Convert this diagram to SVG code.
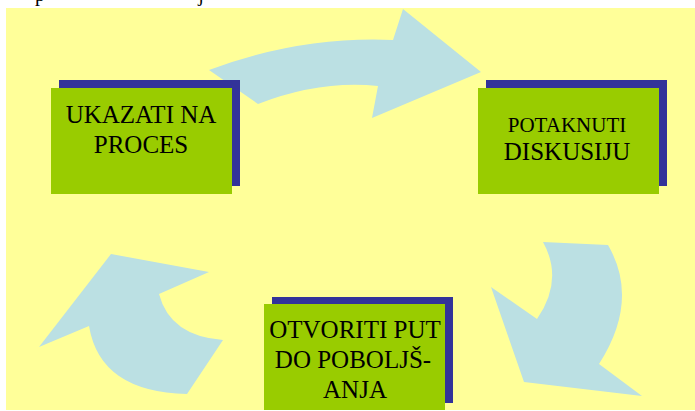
<svg xmlns="http://www.w3.org/2000/svg" width="695" height="411" viewBox="0 0 695 411">
<style>
.arrow{fill:#BBE0E3}
.shadow{fill:#333399}
.box{fill:#99CC00}
.t{font-family:"Liberation Serif","Times New Roman",serif;fill:#000;text-anchor:middle}
</style>
<rect x="0" y="0" width="695" height="411" fill="#FFFFFF"/>
<rect x="6" y="8" width="689" height="402" fill="#FFFF99"/>
<text x="40" y="1" font-family="Liberation Serif, serif" font-size="20" text-anchor="middle">p</text>
<text x="201" y="1" font-family="Liberation Serif, serif" font-size="20" text-anchor="middle">j</text>
<g id="connectors">
<path class="arrow" d="M209,70 Q300,36 393,40 L403,9 L481,72 L372,118 L378,86 Q320,80 258,104 Z"/>
<path class="arrow" d="M543,242 L608,245 Q640,300 599,364 L642,396 L524,382 L491,287 L537,319 Q564,280 543,242 Z"/>
<path class="arrow" d="M111,254 L209,272 L159,294 Q170,336 223,340 L187,394 Q100,392 89,326 L39,347 Z"/>
</g>
<g id="node1">
<rect class="shadow" x="59" y="80" width="181" height="106"/>
<rect class="box" x="51" y="88" width="181" height="106"/>
<text class="t" x="141" y="123" font-size="25">UKAZATI NA</text>
<text class="t" x="141" y="153" font-size="25">PROCES</text>
</g>
<g id="node2">
<rect class="shadow" x="486" y="80" width="181" height="106"/>
<rect class="box" x="478" y="88" width="181" height="106"/>
<text class="t" x="567" y="132" font-size="21">POTAKNUTI</text>
<text class="t" x="567" y="160" font-size="25">DISKUSIJU</text>
</g>
<g id="node3">
<rect class="shadow" x="272" y="297" width="181" height="106"/>
<rect class="box" x="264" y="304" width="181" height="106"/>
<text class="t" x="355" y="338" font-size="25">OTVORITI PUT</text>
<text class="t" x="353" y="368" font-size="25">DO POBOLJŠ-</text>
<text class="t" x="355" y="398" font-size="25">ANJA</text>
</g>
</svg>
